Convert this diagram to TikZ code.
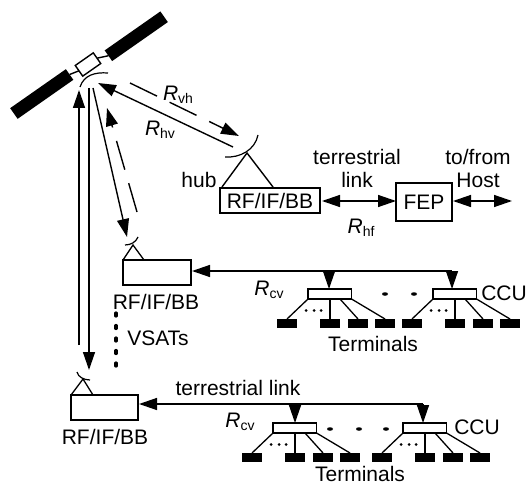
\documentclass[tikz,border=0pt]{standalone}
\usepackage{fontspec}
\setmainfont{Liberation Sans}
\usetikzlibrary{arrows.meta,positioning,shapes.geometric}
\newcommand{\ratelabel}[1]{\textit{R}\raisebox{-3pt}{\fontsize{14}{14}\selectfont #1}}
\tikzset{
  boxnode/.style={draw, line width=1.4pt, inner sep=0pt, outer sep=0pt},
  panelnode/.style={fill=black, inner sep=0pt, outer sep=0pt, rotate=35, minimum width=68pt, minimum height=13pt},
  termnode/.style={fill=black, inner sep=0pt, outer sep=0pt, minimum width=20pt, minimum height=9pt},
  txtnode/.style={inner sep=0pt, font=\fontsize{21}{24}\selectfont},
  solidlink/.style={line width=1.4pt, {Triangle[width=12pt,length=18pt]}-{Triangle[width=12pt,length=18pt]}},
  oneway/.style={line width=1.4pt, -{Triangle[width=12pt,length=18pt]}},
  dashlink/.style={oneway, dash pattern=on 30pt off 14pt},
  dishline/.style={line width=1.2pt},
  dotmark/.style={fill=black, ellipse, inner sep=0pt, minimum width=6pt, minimum height=3.5pt}
}
\begin{document}
\begin{tikzpicture}[x=1pt,y=-1pt]
    \useasboundingbox (0,0) rectangle (526,486);
    % Satellite
    \node[boxnode, rotate=35, minimum width=22pt, minimum height=13pt] (satbody) at (88,64.5) {};
    \node[panelnode] (panela) at (41.75,94) {};
    \node[panelnode] (panelb) at (136.25,36.25) {};
    \draw[line width=1.4pt] (panela.east) -- (satbody.west);
    \draw[line width=1.4pt] (satbody.east) -- (panelb.west);
    \draw[dishline] (80,87) .. controls (84,75) and (95,72) .. (108,73);
    % Hub and FEP
    \node[boxnode, minimum width=100pt, minimum height=25pt] (hubbox) at (270,200.5) {};
    \node[txtnode] at (hubbox) {RF/IF/BB};
    \node[boxnode, minimum width=56pt, minimum height=38pt, txtnode] (fep) at (424,202) {FEP};
    \draw[line width=1.4pt] (222,187) -- (247,153) -- (273,187);
    \draw[dishline] (225,157) .. controls (240,158) and (255,150) .. (258,135);
    \coordinate (hostend) at (512,201);
    \coordinate (hubwest) at (322,201);
    \coordinate (fepwest) at (396,201);
    \coordinate (fepeast) at (453,201);
    \draw[solidlink] (hubwest) -- (fepwest);
    \draw[solidlink] (fepeast) -- (hostend);
    % Links to the satellite
    \coordinate (vha) at (130,83);
    \coordinate (vhb) at (239,136);
    \coordinate (hva) at (233,147);
    \coordinate (hvb) at (98,83);
    \draw[dashlink] (vha) -- (vhb);
    \draw[oneway] (hva) -- (hvb);
    \coordinate (vsa) at (93,88);
    \coordinate (vsb) at (127,237);
    \coordinate (vsc) at (137,212);
    \coordinate (vsd) at (107,108);
    \draw[oneway] (vsa) -- (vsb);
    \draw[dashlink] (vsc) -- (vsd);
    \coordinate (upa) at (79,345);
    \coordinate (upb) at (79,90);
    \coordinate (dna) at (89,88);
    \coordinate (dnb) at (89,370);
    \draw[oneway] (upa) -- (upb);
    \draw[oneway] (dna) -- (dnb);
    % First VSAT
    \node[boxnode, minimum width=68pt, minimum height=25pt] (vsatone) at (157,272.5) {};
    \draw[line width=1.3pt] (123,260) -- (133,245) -- (144,260);
    \draw[dishline] (125,245) .. controls (131,245) and (136,242) .. (138,237);
    % Second VSAT
    \node[boxnode, minimum width=67pt, minimum height=25pt] (vsattwo) at (104.5,407.5) {};
    \draw[line width=1.3pt] (71,395) -- (83,379) -- (93,395);
    \draw[dishline] (77,372) .. controls (78,377) and (84,380) .. (90,380);
    % CCUs with their terminals
    \foreach \g/\xpos/\ypos in {a/308/289, b/433/289, c/273/423, d/403/423} {
      \node[boxnode, anchor=north west, minimum width=43.5pt, minimum height=10pt] (ccu\g) at (\xpos,\ypos) {};
      \coordinate (ccu\g-mid) at ({\xpos+22},{\ypos+10});
      \coordinate (ccu\g-in) at ({\xpos+32},{\ypos+10});
      \foreach \n/\off in {1/-21, 2/22, 3/50, 4/77} {
        \node[termnode] (term\g\n) at ({\xpos+\off},{\ypos+34.5}) {};
      }
      \draw[line width=1.3pt] (ccu\g.south west) -- (term\g1.north);
      \draw[line width=1.3pt] (ccu\g-mid) -- (term\g2.north);
      \draw[line width=1.3pt] (ccu\g-in) -- (term\g3.north);
      \draw[line width=1.3pt] (ccu\g.south east) -- (term\g4.north);
      \foreach \off in {-2,6,13} {
        \fill ({\xpos+\off},{\ypos+21.5}) circle (1.5pt);
      }
    }
    % Terrestrial links to the CCUs
    \coordinate (lineone) at (452,271);
    \coordinate (tapone) at (329,271);
    \coordinate (vsatonein) at (192,271);
    \coordinate (tipa) at (329,289);
    \coordinate (tipb) at (452,289);
    \draw[oneway] (lineone) -- (vsatonein);
    \draw[oneway] (tapone) -- (tipa);
    \draw[oneway] (lineone) -- (tipb);
    \coordinate (linetwo) at (423,404);
    \coordinate (taptwo) at (295,404);
    \coordinate (vsattwoin) at (139,404);
    \coordinate (tipc) at (295,423);
    \coordinate (tipd) at (423,423);
    \draw[oneway] (linetwo) -- (vsattwoin);
    \draw[oneway] (taptwo) -- (tipc);
    \draw[oneway] (linetwo) -- (tipd);
    % Dots between the CCUs
    \foreach \xpos/\ypos in {385/294, 414/294, 330/429, 359/429, 386/429} {
      \node[dotmark] at (\xpos,\ypos) {};
    }
    \draw[line width=3.2pt, line cap=round, dash pattern=on 3pt off 9.5pt] (116,313) -- (116,366);
    % Labels
    \node[txtnode] at (199,180) {hub};
    \node[txtnode] at (357,157) {terrestrial};
    \node[txtnode] at (357,180) {link};
    \node[txtnode] at (478,157) {to/from};
    \node[txtnode] at (478,180) {Host};
    \node[txtnode] at (361,228) {\ratelabel{hf}};
    \node[txtnode] at (178,95) {\ratelabel{vh}};
    \node[txtnode] at (160,130) {\ratelabel{hv}};
    \node[txtnode] at (269,290) {\ratelabel{cv}};
    \node[txtnode] at (240,422) {\ratelabel{cv}};
    \node[txtnode] at (156,302) {RF/IF/BB};
    \node[txtnode] at (158,338) {VSATs};
    \node[txtnode] at (105,437) {RF/IF/BB};
    \node[txtnode] at (504,293) {CCU};
    \node[txtnode] at (477,427) {CCU};
    \node[txtnode] at (373,344) {Terminals};
    \node[txtnode] at (360,474) {Terminals};
    \node[txtnode] at (238,388) {terrestrial link};
\end{tikzpicture}
\end{document}
